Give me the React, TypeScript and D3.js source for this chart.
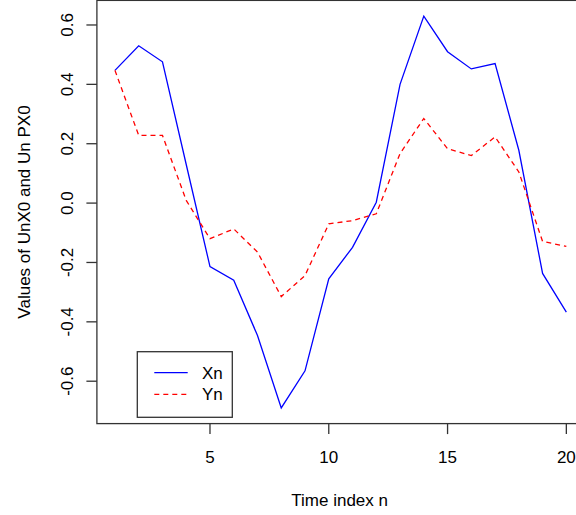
import React from "react";
import * as d3 from "d3";

const timeIndex = d3.range(1, 21);
const xnValues = [0.447, 0.53, 0.476, 0.13, -0.214, -0.26, -0.446, -0.69, -0.565, -0.255, -0.149, 0.003, 0.4, 0.63, 0.51, 0.452, 0.47, 0.178, -0.237, -0.367];
const ynValues = [0.447, 0.228, 0.228, 0.009, -0.12, -0.087, -0.165, -0.315, -0.244, -0.07, -0.059, -0.036, 0.167, 0.285, 0.183, 0.16, 0.223, 0.105, -0.129, -0.146];
const xTicks = [5, 10, 15, 20];
const yTicks = [-0.6, -0.4, -0.2, 0.0, 0.2, 0.4, 0.6];
const yTickLabels = ["-0.6", "-0.4", "-0.2", "0.0", "0.2", "0.4", "0.6"];
const legendLabels = ["Xn", "Yn"];
const seriesColors = ["#0000ff", "#ff0000"];

const W = 576;
const H = 515;
const FONT = "Liberation Sans, Arial, sans-serif";

export default function App() {
  const pad = (ext: [number, number]): [number, number] => {
    const r = ext[1] - ext[0];
    return [ext[0] - 0.04 * r, ext[1] + 0.04 * r];
  };
  const xDom = pad([1, 20]);
  const allY = [...xnValues, ...ynValues];
  const yDom = pad([d3.min(allY)!, d3.max(allY)!]);

  const left = 96.9, right = 584.4, top = 0.4, bottom = 423.6;
  const x = d3.scaleLinear().domain(xDom).range([left, right]);
  const y = d3.scaleLinear().domain(yDom).range([bottom, top]);

  const line = d3
    .line<number>()
    .x((_, i) => x(timeIndex[i]))
    .y((d) => y(d));

  const axisColor = "#333";

  return (
    <svg
      width={W}
      height={H}
      style={{ position: "absolute", left: 0, top: 0, background: "#fff" }}
      fontFamily={FONT}
    >
      <rect x={0} y={0} width={W} height={H} fill="#fff" />
      <rect
        x={left}
        y={top}
        width={right - left}
        height={bottom - top}
        fill="none"
        stroke={axisColor}
        strokeWidth={1.3}
      />
      <path d={line(xnValues) || ""} fill="none" stroke={seriesColors[0]} strokeWidth={1.3} />
      <path
        d={line(ynValues) || ""}
        fill="none"
        stroke={seriesColors[1]}
        strokeWidth={1.3}
        strokeDasharray="5,4"
      />
      {xTicks.map((t) => (
        <g key={"x" + t}>
          <line x1={x(t)} x2={x(t)} y1={bottom} y2={bottom + 10.5} stroke={axisColor} strokeWidth={1.3} />
          <text x={x(t)} y={462.5} fontSize={17} textAnchor="middle" fill="#000">
            {t}
          </text>
        </g>
      ))}
      {yTicks.map((t, i) => (
        <g key={"y" + t}>
          <line x1={left - 10.5} x2={left} y1={y(t)} y2={y(t)} stroke={axisColor} strokeWidth={1.3} />
          <text
            transform={`translate(72.5,${y(t)}) rotate(-90)`}
            fontSize={17}
            textAnchor="middle"
            fill="#000"
          >
            {yTickLabels[i]}
          </text>
        </g>
      ))}
      <text x={(left + right) / 2 - 1} y={506} fontSize={17} textAnchor="middle" fill="#000">
        Time index n
      </text>
      <text
        transform={`translate(30,${(top + bottom) / 2}) rotate(-90)`}
        fontSize={17}
        textAnchor="middle"
        fill="#000"
      >
        Values of UnX0 and Un PX0
      </text>
      <rect x={137.3} y={351.7} width={95} height={65.6} fill="#fff" stroke={axisColor} strokeWidth={1.3} />
      {legendLabels.map((lab, i) => (
        <g key={lab}>
          <line
            x1={154.3}
            x2={187.7}
            y1={372.7 + i * 21.6}
            y2={372.7 + i * 21.6}
            stroke={seriesColors[i]}
            strokeWidth={1.3}
            strokeDasharray={i === 1 ? "5,4" : undefined}
          />
          <text x={202} y={378.8 + i * 21.6} fontSize={17} fill="#000">
            {lab}
          </text>
        </g>
      ))}
    </svg>
  );
}
